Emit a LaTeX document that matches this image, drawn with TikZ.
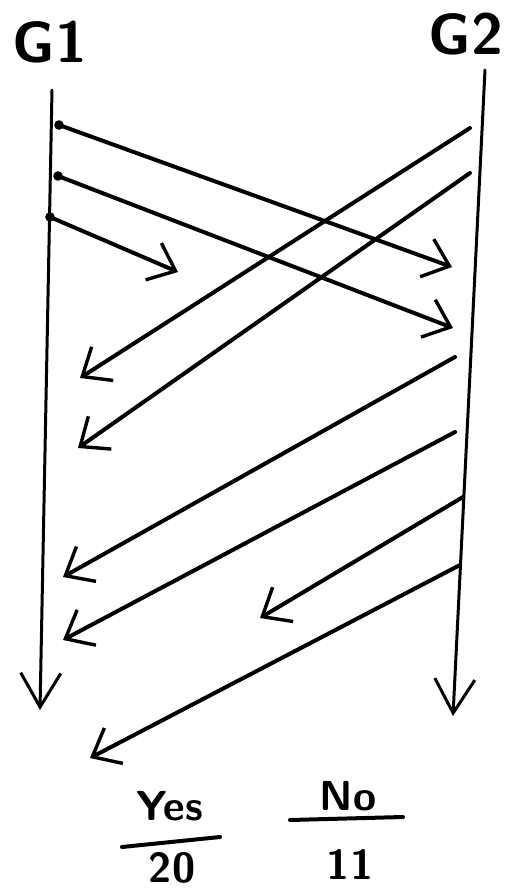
\documentclass[tikz,border=0pt]{standalone}
\usetikzlibrary{arrows.meta,calc}
\tikzset{
  timeline/.style={line width=3pt, line cap=round, -{Straight Barb[length=34pt,width=40pt,line width=3pt]}},
  msg/.style={line width=4pt, line cap=round, -{Straight Barb[length=24pt,width=40pt,line width=3.4pt]}},
  sendpt/.style={circle, draw, fill=black, line width=1.5pt, inner sep=0pt, minimum size=8pt},
  glabel/.style={font=\sffamily\bfseries\fontsize{58}{58}\selectfont},
  tally/.style={font=\sffamily\bfseries\fontsize{42}{42}\selectfont},
  bar/.style={line width=4pt, line cap=round}
}
\begin{document}
\begin{tikzpicture}[x=1pt,y=-1pt]
    \useasboundingbox (0,0) rectangle (526,889);

    \node[glabel] (G1) at (50,42) {G1};
    \node[glabel] (G2) at (466,34) {G2};

    % time lines
    \coordinate (g1top) at (52,90);
    \coordinate (g1bot) at (40,710);
    \coordinate (g2top) at (485,70);
    \coordinate (g2bot) at (453,716);
    \draw[timeline] (g1top) -- (g1bot);
    \draw[timeline] (g2top) -- (g2bot);

    % G1 -> G2
    \node[sendpt] (d1) at (59,125) {};
    \node[sendpt] (d2) at (58,176) {};
    \node[sendpt] (d3) at (50,217) {};
    \coordinate (e1) at (452,267);
    \coordinate (e2) at (453,328);
    \coordinate (e3) at (178,272);

    % G2 -> G1
    \coordinate (r1) at (470,128);
    \coordinate (r2) at (470,173);
    \coordinate (r3) at (455,357);
    \coordinate (r4) at (455,432);
    \coordinate (r5) at (463,497);
    \coordinate (r6) at (460,565);
    \coordinate (f1) at (80,378);
    \coordinate (f2) at (78,448);
    \coordinate (f3) at (63,577);
    \coordinate (f4) at (63,640);
    \coordinate (f5) at (260,618);
    \coordinate (f6) at (90,758);

    \foreach \s/\e in {d1/e1,d2/e2,d3/e3,r1/f1,r2/f2,r3/f3,r4/f4,r5/f5,r6/f6}
        \draw[msg] (\s) -- (\e);

    % tally
    \node[tally] (yes) at (170,806) {Yes};
    \node[tally] (no) at (348,796) {No};
    \node[tally] (yescount) at (172,868) {20};
    \node[tally] (nocount) at (350,864) {11};
    \draw[bar] (122,847) -- (220,837);
    \draw[bar] (290,820) -- (403,817);
\end{tikzpicture}
\end{document}
